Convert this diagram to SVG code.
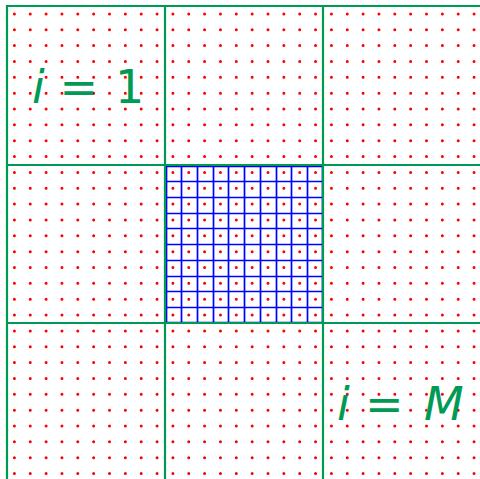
<svg xmlns="http://www.w3.org/2000/svg" width="480" height="479" viewBox="0 0 480 479">
<style>
.g{stroke:#009a55;stroke-width:2.2;fill:none}
.b{stroke:#0000ff;stroke-width:1.7;fill:none}
.d{stroke:#ff0000;stroke-width:3;stroke-linecap:round;stroke-dasharray:0 15.85;fill:none}
.t{font-family:"DejaVu Sans",sans-serif;font-size:46px;fill:#009a55}
.it{font-style:italic}
</style>
<rect width="480" height="479" fill="#ffffff"/>
<g id="dots">
<path class="d" d="M14.4,13.9V490M30.25,13.9V490M46.1,13.9V490M61.95,13.9V490M77.8,13.9V490M93.65,13.9V490M109.5,13.9V490M125.35,13.9V490M141.2,13.9V490M157.05,13.9V490M172.9,13.9V490M188.75,13.9V490M204.6,13.9V490M220.45,13.9V490M236.3,13.9V490M252.15,13.9V490M268,13.9V490M283.85,13.9V490M299.7,13.9V490M315.55,13.9V490M331.4,13.9V490M347.25,13.9V490M363.1,13.9V490M378.95,13.9V490M394.8,13.9V490M410.65,13.9V490M426.5,13.9V490M442.35,13.9V490M458.2,13.9V490M474.05,13.9V490"/>
</g>
<g id="fine-grid">
<path class="b" d="M166.5,166V323M181.5,166V323M197.5,166V323M213.5,166V323M228.5,166V323M244.5,166V323M260.5,166V323M276.5,166V323M291.5,166V323M307.5,166V323M322.5,166V323"/>
<path class="b" d="M166,166.5H323M166,181.5H323M166,197.5H323M166,213.5H323M166,228.5H323M166,244.5H323M166,260.5H323M166,276.5H323M166,291.5H323M166,307.5H323M166,322.5H323"/>
</g>
<g id="coarse-grid">
<path class="g" d="M7,5V480M165,5V480M323,5V480"/>
<path class="g" d="M6,6H480M6,165H480M6,323H480"/>
</g>
<g id="label-1">
<text class="t" y="102.7"><tspan class="it" x="32">i</tspan><tspan x="59.5">=</tspan><tspan x="115">1</tspan></text>
</g>
<g id="label-M">
<text class="t" y="420"><tspan class="it" x="337">i</tspan><tspan x="365">=</tspan><tspan class="it" x="424">M</tspan></text>
</g>
</svg>
